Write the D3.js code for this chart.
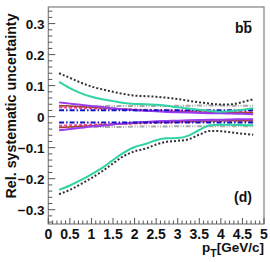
<!DOCTYPE html>
<html><head><meta charset="utf-8">
<script src="https://cdn.jsdelivr.net/npm/d3@7"></script>
<style>html,body{margin:0;padding:0;background:#fff;}svg{display:block;}text{font-family:"Liberation Sans",Arial,sans-serif;font-weight:bold;}</style>
</head><body>
<svg id="c" width="270" height="262"></svg>
<script>
const pt = [0.25,0.5,0.75,1.0,1.25,1.5,1.75,2.0,2.25,2.5,2.75,3.0,3.25,3.5,3.75,4.0,4.25,4.5,4.75];
const totalUp   = [0.14,0.125,0.11,0.097,0.088,0.08,0.073,0.068,0.066,0.064,0.061,0.057,0.051,0.046,0.042,0.039,0.04,0.047,0.056];
const totalDown = [-0.25,-0.236,-0.218,-0.198,-0.176,-0.151,-0.127,-0.112,-0.103,-0.09,-0.081,-0.078,-0.073,-0.058,-0.046,-0.047,-0.051,-0.055,-0.058];
const tealUp    = [0.112,0.092,0.076,0.064,0.056,0.05,0.044,0.041,0.04,0.038,0.035,0.03,0.026,0.022,0.019,0.016,0.018,0.022,0.027];
const tealDown  = [-0.236,-0.222,-0.205,-0.186,-0.165,-0.14,-0.116,-0.098,-0.088,-0.076,-0.07,-0.069,-0.061,-0.043,-0.028,-0.026,-0.026,-0.027,-0.028];
const purpleUp  = [0.046,0.042,0.038,0.034,0.031,0.027,0.024,0.021,0.019,0.017,0.015,0.014,0.013,0.012,0.011,0.011,0.01,0.009,0.008];
const purpleDown= [-0.044,-0.04,-0.036,-0.032,-0.029,-0.025,-0.022,-0.019,-0.017,-0.015,-0.014,-0.013,-0.012,-0.011,-0.01,-0.01,-0.009,-0.008,-0.008];
const brownUp   = [0.036,0.034,0.032,0.03,0.028,0.026,0.024,0.022,0.02,0.018,0.017,0.016,0.015,0.014,0.014,0.013,0.013,0.013,0.013];
const brownDown = [-0.035,-0.033,-0.031,-0.029,-0.027,-0.025,-0.023,-0.021,-0.019,-0.018,-0.017,-0.016,-0.015,-0.014,-0.014,-0.013,-0.013,-0.013,-0.013];
const blueUp    = [0.021,0.021,0.021,0.021,0.021,0.021,0.021,0.021,0.021,0.021,0.021,0.021,0.021,0.021,0.021,0.021,0.021,0.021,0.021];
const blueDown  = [-0.019,-0.019,-0.019,-0.019,-0.019,-0.019,-0.019,-0.019,-0.019,-0.019,-0.019,-0.019,-0.019,-0.019,-0.019,-0.019,-0.019,-0.019,-0.019];
const grayUp    = [0.033,0.033,0.033,0.033,0.034,0.034,0.034,0.034,0.034,0.034,0.034,0.035,0.035,0.036,0.036,0.036,0.035,0.035,0.035];
const grayDown  = [-0.034,-0.034,-0.034,-0.033,-0.033,-0.033,-0.033,-0.032,-0.032,-0.032,-0.032,-0.031,-0.031,-0.031,-0.031,-0.031,-0.031,-0.031,-0.031];
const pinkUp    = [0.03,0.029,0.028,0.027,0.026,0.025,0.024,0.023,0.022,0.021,0.02,0.019,0.018,0.017,0.016,0.015,0.014,0.014,0.014];
const pinkDown  = [-0.029,-0.028,-0.027,-0.026,-0.025,-0.024,-0.023,-0.022,-0.021,-0.02,-0.019,-0.018,-0.017,-0.016,-0.015,-0.014,-0.013,-0.013,-0.013];
const xTicks = [0,0.5,1,1.5,2,2.5,3,3.5,4,4.5,5];
const xTickLabels = ["0","0.5","1","1.5","2","2.5","3","3.5","4","4.5","5"];
const yTicks = [-0.3,-0.2,-0.1,0,0.1,0.2,0.3];
const yTickLabels = ["\u22120.3","\u22120.2","\u22120.1","0","0.1","0.2","0.3"];

const L=48.3,R=264,T=7,B=224;
const svg=d3.select("#c");
const x=d3.scaleLinear().domain([0,5]).range([L,R]);
const y=d3.scaleLinear().domain([-0.3461,0.3535]).range([B,T]);

svg.append("defs").append("clipPath").attr("id","clip").append("rect")
  .attr("x",L).attr("y",T).attr("width",R-L).attr("height",B-T);

const series=[
  {d:grayUp,c:"#a8a8a8",w:2,da:"5,1.5,1,1.5,1,1.5"},
  {d:grayDown,c:"#a8a8a8",w:2,da:"5,1.5,1,1.5,1,1.5"},
  {d:pinkUp,c:"#ff3da0",w:2,da:"3,2"},
  {d:pinkDown,c:"#ff3da0",w:2,da:"3,2"},
  {d:brownUp,c:"#a0442a",w:1.5,da:null},
  {d:brownDown,c:"#a0442a",w:1.5,da:null},
  {d:purpleUp,c:"#9b3cf0",w:2,da:null},
  {d:purpleDown,c:"#9b3cf0",w:2,da:null},
  {d:blueUp,c:"#1010c8",w:2,da:"5,2,1.5,2"},
  {d:blueDown,c:"#1010c8",w:2,da:"5,2,1.5,2"},
  {d:tealUp,c:"#2fd3a4",w:2,da:null},
  {d:tealDown,c:"#2fd3a4",w:2,da:null},
  {d:totalUp,c:"#333",w:2,da:"2,2"},
  {d:totalDown,c:"#333",w:2,da:"2,2"}
];
const line=d3.line().x((d,i)=>x(pt[i])).y(d=>y(d)).curve(d3.curveMonotoneX);
const g=svg.append("g").attr("clip-path","url(#clip)");
series.forEach(s=>{
  const p=g.append("path").attr("d",line(s.d)).attr("fill","none")
    .attr("stroke",s.c).attr("stroke-width",s.w);
  if(s.da) p.attr("stroke-dasharray",s.da);
});

// frame
svg.append("rect").attr("x",L).attr("y",T).attr("width",R-L).attr("height",B-T)
  .attr("fill","none").attr("stroke","#808080").attr("stroke-width",1.2);

// ticks
const tk=svg.append("g").attr("stroke","#555").attr("stroke-width",1);
d3.range(-0.34,0.3501,0.02).forEach(v=>{
  const major=Math.abs(Math.round(v*10)-v*10)<1e-6;
  tk.append("line").attr("x1",L).attr("x2",L+(major?7:4)).attr("y1",y(v)).attr("y2",y(v));
});
d3.range(0,5.001,0.1).forEach(v=>{
  const major=Math.abs(Math.round(v*2)-v*2)<1e-6;
  tk.append("line").attr("y1",B).attr("y2",B-(major?6:3.5)).attr("x1",x(v)).attr("x2",x(v));
});

// tick labels
yTicks.forEach((v,i)=>{
  svg.append("text").attr("x",44.5).attr("y",y(v)+5).attr("text-anchor","end")
    .attr("font-size",13.5).attr("fill","#111").text(yTickLabels[i]);
});
xTicks.forEach((v,i)=>{
  svg.append("text").attr("x",x(v)).attr("y",238.5).attr("text-anchor","middle")
    .attr("font-size",14).attr("fill","#111").text(xTickLabels[i]);
});

// titles
svg.append("text").attr("transform","translate(15.5,106) rotate(-90)").attr("text-anchor","middle")
  .attr("font-size",14.3).attr("fill","#111").text("Rel. systematic uncertainty");
const xt=svg.append("text").attr("x",264).attr("y",252).attr("text-anchor","end").attr("font-size",13.5).attr("fill","#111");
xt.append("tspan").text("p");
xt.append("tspan").attr("font-size",10.5).attr("dy",5).text("T");
xt.append("tspan").attr("dy",-5).text("[GeV/c]");

svg.append("text").attr("x",235).attr("y",33).attr("font-size",14).attr("fill","#111").text("bb");
svg.append("line").attr("x1",243).attr("x2",251).attr("y1",21.5).attr("y2",21.5)
  .attr("stroke","#111").attr("stroke-width",1.3);
svg.append("text").attr("x",234).attr("y",201.5).attr("font-size",14).attr("fill","#111").text("(d)");
</script>
</body></html>
